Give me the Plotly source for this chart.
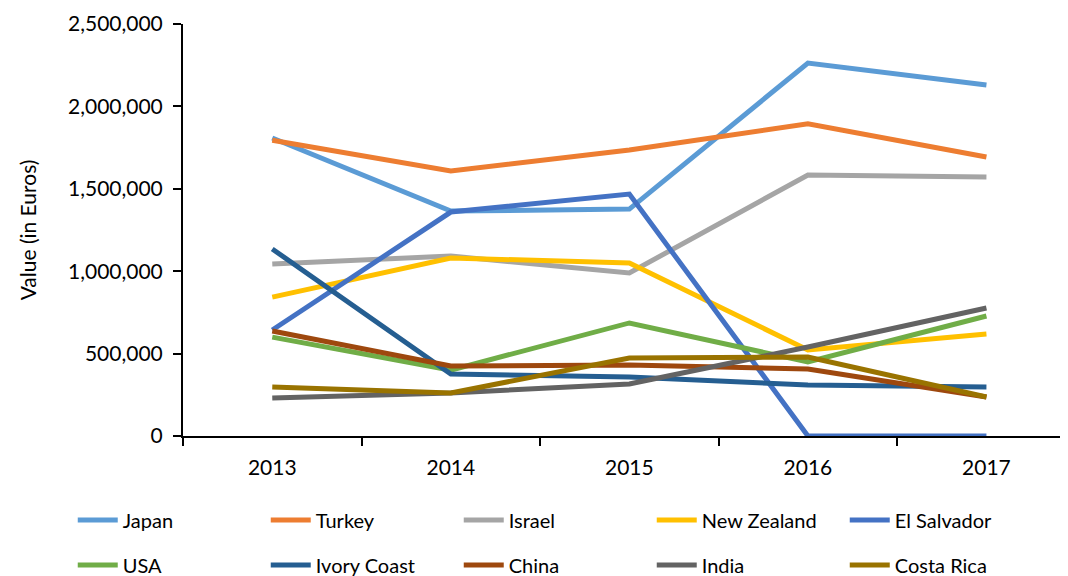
import plotly.graph_objects as go

# Years on the x axis
years = ["2013", "2014", "2015", "2016", "2017"]

# Value (in Euros) per country
japan = [1808000, 1365000, 1377000, 2263000, 2130000]
turkey = [1795000, 1608000, 1735000, 1895000, 1693000]
israel = [1044000, 1092000, 989000, 1584000, 1572000]
new_zealand = [843000, 1080000, 1050000, 522000, 619000]
el_salvador = [643000, 1359000, 1468000, 0, 0]
usa = [600000, 400000, 686000, 449000, 728000]
ivory_coast = [1135000, 376000, 358000, 309000, 297000]
china = [637000, 425000, 431000, 407000, 237000]
india = [231000, 261000, 316000, 540000, 777000]
costa_rica = [297000, 261000, 473000, 479000, 237000]

series = [
    ("Japan", japan, "#5B9BD5"),
    ("Turkey", turkey, "#ED7D31"),
    ("Israel", israel, "#A5A5A5"),
    ("New Zealand", new_zealand, "#FFC000"),
    ("El Salvador", el_salvador, "#4472C4"),
    ("USA", usa, "#70AD47"),
    ("Ivory Coast", ivory_coast, "#255E91"),
    ("China", china, "#9E480E"),
    ("India", india, "#636363"),
    ("Costa Rica", costa_rica, "#997300"),
]

fig = go.Figure()
for i, (name, values, color) in enumerate(series):
    # first five go in the top legend row, the rest in the second row
    fig.add_trace(go.Scatter(
        x=years, y=values, name=name, mode="lines",
        line=dict(color=color, width=5),
        legend="legend" if i < 5 else "legend2",
    ))

legend_style = dict(
    orientation="h", x=-0.125, xanchor="left", yanchor="middle",
    entrywidth=138, entrywidthmode="pixels",
    font=dict(size=20), itemwidth=40, bgcolor="rgba(0,0,0,0)",
)

# page body adds an 8px offset, so the figure is a bit smaller than the window
fig.update_layout(
    width=1060, height=568,
    margin=dict(l=175, r=3, t=16, b=140, autoexpand=False),
    plot_bgcolor="white", paper_bgcolor="white",
    font=dict(family="Lato, Open Sans, sans-serif", size=20, color="#000000"),
    showlegend=True,
    legend=dict(legend_style, y=-0.204),
    legend2=dict(legend_style, y=-0.313),
)
# the original's last category runs past the right edge of the picture
fig.update_xaxes(
    type="category", range=[-0.5, 4.44], showgrid=False, showline=True,
    linecolor="black", linewidth=2,
    ticks="outside", tickson="boundaries", ticklen=8, tickcolor="black", tickwidth=2,
    ticklabelstandoff=12, tickfont=dict(size=21),
)
fig.update_yaxes(
    range=[0, 2500000], dtick=500000, tickformat=",", showgrid=False,
    showline=True, linecolor="black", linewidth=2, zeroline=False,
    ticks="outside", ticklen=8, tickcolor="black", tickwidth=2,
    ticklabelstandoff=6, tickfont=dict(size=21),
    title=dict(text="Value (in Euros)", standoff=26, font=dict(size=21)),
)

fig.write_html("out.html")
